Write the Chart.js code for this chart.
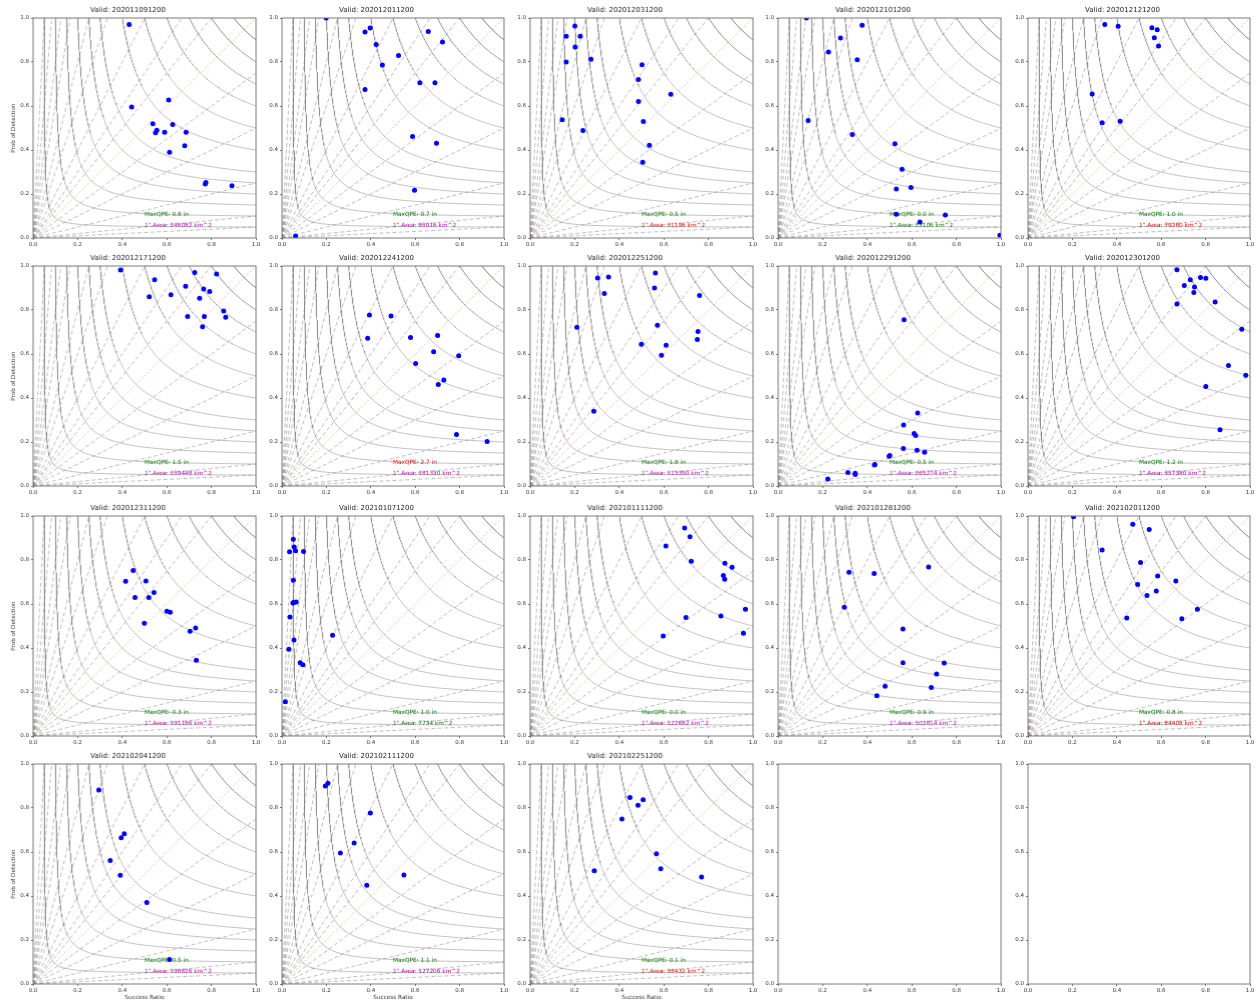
<!DOCTYPE html>
<html>
<head>
<meta charset="utf-8">
<script src="https://cdn.jsdelivr.net/npm/chart.js@4.4.0/dist/chart.umd.min.js"></script>
<style>
  body { margin: 0; background: #fff; width: 1257px; height: 1001px; overflow: hidden; position: relative; }
  canvas { position: absolute; }
</style>
</head>
<body>
<script>
// ---- data ----
const validTimes = ['202011091200', '202012011200', '202012031200', '202012101200', '202012121200',
  '202012171200', '202012241200', '202012251200', '202012291200', '202012301200',
  '202012311200', '202101071200', '202101111200', '202101281200', '202102011200',
  '202102041200', '202102111200', '202102251200'];
const maxQpe = ['0.8', '0.7', '0.5', '0.0', '1.0', '1.5', '2.7', '1.8', '0.5', '1.2',
  '0.3', '1.0', '0.0', '0.9', '0.8', '0.5', '1.1', '0.1'];
const area1in = [246082, 95016, 31196, 23106, 79280, 159448, 181330, 113390, 265274, 357380,
  191186, 7734, 122682, 102814, 84408, 198826, 127206, 38432];
const qpeColors = ['g', 'g', 'g', 'g', 'g', 'g', 'r', 'g', 'g', 'g', 'g', 'g', 'g', 'g', 'g', 'g', 'g', 'g'];
const areaColors = ['m', 'm', 'r', 'g', 'r', 'm', 'm', 'm', 'm', 'm', 'm', 'g', 'm', 'm', 'r', 'm', 'm', 'r'];

const successRatio = [
  [0.431, 0.442, 0.608, 0.537, 0.626, 0.555, 0.549, 0.590, 0.686, 0.680, 0.612, 0.775, 0.772, 0.892],
  [0.199, 0.374, 0.397, 0.424, 0.452, 0.525, 0.374, 0.588, 0.597, 0.061, 0.659, 0.723, 0.621, 0.689, 0.696],
  [0.162, 0.201, 0.225, 0.202, 0.162, 0.273, 0.502, 0.486, 0.631, 0.486, 0.508, 0.144, 0.237, 0.535, 0.505],
  [0.127, 0.226, 0.280, 0.135, 0.377, 0.355, 0.333, 0.524, 0.556, 0.596, 0.530, 0.530, 0.750, 0.636, 0.995],
  [0.346, 0.406, 0.558, 0.582, 0.569, 0.588, 0.289, 0.334, 0.415],
  [0.392, 0.545, 0.725, 0.823, 0.521, 0.618, 0.684, 0.765, 0.792, 0.747, 0.855, 0.864, 0.693, 0.768, 0.760],
  [0.394, 0.491, 0.386, 0.579, 0.602, 0.701, 0.683, 0.796, 0.729, 0.704, 0.786, 0.924],
  [0.303, 0.352, 0.333, 0.562, 0.558, 0.760, 0.210, 0.571, 0.753, 0.750, 0.499, 0.610, 0.589, 0.286],
  [0.223, 0.565, 0.626, 0.563, 0.610, 0.617, 0.562, 0.623, 0.657, 0.501, 0.498, 0.434, 0.432, 0.313, 0.346, 0.346],
  [0.671, 0.777, 0.801, 0.731, 0.704, 0.750, 0.747, 0.671, 0.843, 0.963, 0.903, 0.981, 0.801, 0.865],
  [0.449, 0.415, 0.506, 0.542, 0.457, 0.519, 0.600, 0.615, 0.499, 0.704, 0.729, 0.732],
  [0.051, 0.034, 0.055, 0.061, 0.097, 0.051, 0.054, 0.064, 0.049, 0.036, 0.031, 0.054, 0.082, 0.094, 0.228, 0.015],
  [0.693, 0.717, 0.609, 0.723, 0.874, 0.906, 0.867, 0.873, 0.966, 0.856, 0.699, 0.957, 0.597],
  [0.318, 0.431, 0.675, 0.297, 0.560, 0.560, 0.745, 0.711, 0.480, 0.687, 0.443],
  [0.205, 0.472, 0.546, 0.334, 0.507, 0.584, 0.666, 0.494, 0.578, 0.536, 0.763, 0.445, 0.693],
  [0.295, 0.409, 0.395, 0.346, 0.391, 0.510, 0.612],
  [0.195, 0.207, 0.398, 0.325, 0.263, 0.382, 0.549],
  [0.448, 0.507, 0.484, 0.412, 0.567, 0.586, 0.288, 0.769]
];
const probDetection = [
  [0.970, 0.596, 0.627, 0.519, 0.516, 0.490, 0.478, 0.481, 0.481, 0.419, 0.390, 0.252, 0.246, 0.237],
  [1.000, 0.936, 0.954, 0.879, 0.786, 0.830, 0.675, 0.461, 0.217, 0.009, 0.939, 0.891, 0.706, 0.706, 0.431],
  [0.917, 0.964, 0.917, 0.868, 0.800, 0.812, 0.788, 0.721, 0.653, 0.621, 0.530, 0.537, 0.489, 0.422, 0.344],
  [1.000, 0.845, 0.909, 0.534, 0.967, 0.810, 0.470, 0.428, 0.313, 0.229, 0.223, 0.108, 0.105, 0.073, 0.012],
  [0.971, 0.962, 0.956, 0.947, 0.910, 0.873, 0.654, 0.524, 0.531],
  [0.982, 0.938, 0.970, 0.964, 0.860, 0.869, 0.908, 0.896, 0.884, 0.853, 0.796, 0.767, 0.770, 0.770, 0.724],
  [0.777, 0.773, 0.672, 0.675, 0.557, 0.684, 0.610, 0.592, 0.482, 0.461, 0.234, 0.202],
  [0.946, 0.950, 0.875, 0.968, 0.900, 0.866, 0.722, 0.731, 0.702, 0.666, 0.644, 0.640, 0.594, 0.340],
  [0.032, 0.756, 0.332, 0.277, 0.239, 0.230, 0.171, 0.162, 0.153, 0.139, 0.135, 0.098, 0.095, 0.061, 0.058, 0.052],
  [0.983, 0.948, 0.944, 0.938, 0.911, 0.905, 0.880, 0.827, 0.836, 0.712, 0.548, 0.503, 0.452, 0.256],
  [0.752, 0.703, 0.705, 0.652, 0.629, 0.629, 0.567, 0.562, 0.512, 0.476, 0.491, 0.344],
  [0.894, 0.838, 0.859, 0.842, 0.839, 0.708, 0.608, 0.609, 0.605, 0.541, 0.394, 0.436, 0.333, 0.324, 0.458, 0.156],
  [0.945, 0.906, 0.864, 0.794, 0.785, 0.767, 0.729, 0.712, 0.576, 0.545, 0.539, 0.467, 0.455],
  [0.744, 0.739, 0.768, 0.585, 0.486, 0.333, 0.332, 0.282, 0.226, 0.221, 0.183],
  [0.997, 0.962, 0.939, 0.845, 0.789, 0.727, 0.705, 0.689, 0.659, 0.639, 0.576, 0.536, 0.533],
  [0.882, 0.683, 0.665, 0.561, 0.494, 0.370, 0.111],
  [0.900, 0.912, 0.777, 0.641, 0.595, 0.449, 0.496],
  [0.848, 0.838, 0.812, 0.750, 0.592, 0.524, 0.515, 0.486]
];

// background reference lines of the performance diagram
const csiLevels = [0.05, 0.1, 0.15, 0.2, 0.25, 0.3, 0.4, 0.5, 0.6, 0.7, 0.8, 0.9];
const biasLevels = [0.05, 0.1, 0.25, 0.5, 0.75, 1, 1.25, 1.5, 2, 3, 4, 6, 8, 12, 20];
const tickValues = [0, 0.2, 0.4, 0.6, 0.8, 1.0];
const tickLabels = ['0.0', '0.2', '0.4', '0.6', '0.8', '1.0'];

// ---- layout ----
const colLeft = [33.3, 281.7, 530.2, 778.3, 1027.7];
const rowTop = [18.3, 266, 515.7, 764.3];
const plotW = 222.5, plotH = 220;
const padL = 33, padT = 17, padR = 8, padB = 18;
const FONT = 'DejaVu Sans';
const textColor = { g: '#008000', m: '#bf00bf', r: '#ff0000' };

function csiCurve(c) {
  const a = 1 / c + 1;
  const s = 2 * c / (1 + c);
  const pts = [];
  const n = 60;
  for (let i = 0; i <= n; i++) {
    const pod = 1 - (1 - s) * i / n;
    pts.push({ x: 1 / (a - 1 / pod), y: pod });
  }
  for (let i = 1; i <= n; i++) {
    const sr = s + (1 - s) * i / n;
    pts.push({ x: sr, y: 1 / (a - 1 / sr) });
  }
  return pts;
}

function biasLine(b) {
  return [{ x: 0, y: 0 }, { x: Math.min(1, 1 / b), y: Math.min(1, b) }];
}

const framePlugin = {
  id: 'frame',
  beforeDatasetsDraw(chart) {
    const idx = chart.options.plugins.frame.index;
    if (idx >= validTimes.length) return;
    const { ctx, scales: { x, y } } = chart;
    ctx.save();
    ctx.font = '5.8px "' + FONT + '"';
    ctx.textAlign = 'left';
    ctx.textBaseline = 'alphabetic';
    ctx.fillStyle = textColor[qpeColors[idx]];
    ctx.fillText('MaxQPE: ' + maxQpe[idx] + ' in', x.getPixelForValue(0.5), y.getPixelForValue(0.1));
    ctx.fillStyle = textColor[areaColors[idx]];
    ctx.fillText('1" Area: ' + area1in[idx] + ' km^2', x.getPixelForValue(0.5), y.getPixelForValue(0.05));
    ctx.restore();
  },
  afterDraw(chart) {
    const { ctx, chartArea: a } = chart;
    ctx.save();
    ctx.strokeStyle = '#7a7a7a';
    ctx.lineWidth = 1;
    ctx.strokeRect(a.left, a.top, a.right - a.left, a.bottom - a.top);
    ctx.restore();
  }
};

for (let i = 0; i < 20; i++) {
  const r = Math.floor(i / 5), c = i % 5;
  const canvas = document.createElement('canvas');
  const w = padL + plotW + padR, h = padT + plotH + padB;
  canvas.width = w;
  canvas.height = h;
  canvas.style.width = w + 'px';
  canvas.style.height = h + 'px';
  canvas.style.left = (colLeft[c] - padL) + 'px';
  canvas.style.top = (rowTop[r] - padT) + 'px';
  document.body.appendChild(canvas);

  const datasets = [];
  if (i < validTimes.length) {
    datasets.push({
      data: successRatio[i].map((v, k) => ({ x: v, y: probDetection[i][k] })),
      backgroundColor: '#0000ff',
      borderWidth: 0,
      pointRadius: 2.5,
      showLine: false
    });
    biasLevels.forEach(b => {
      datasets.push({
        data: biasLine(b),
        showLine: true,
        pointRadius: 0,
        borderWidth: 0.9,
        borderColor: b === 1 ? 'rgba(255,80,80,0.45)' : 'rgba(110,110,110,0.5)',
        borderDash: b === 1 ? [2, 2] : [4, 2.5]
      });
    });
    csiLevels.forEach(lv => {
      datasets.push({
        data: csiCurve(lv),
        showLine: true,
        pointRadius: 0,
        borderWidth: 0.9,
        borderColor: 'rgba(120,120,120,0.5)',
        tension: 0
      });
    });
  }

  const tickFont = { family: FONT, size: 5.5 };
  new Chart(canvas, {
    type: 'scatter',
    data: { datasets },
    options: {
      responsive: false,
      animation: false,
      events: [],
      layout: { padding: { left: 0, top: 0, right: padR, bottom: 0 } },
      plugins: {
        legend: { display: false },
        tooltip: { enabled: false },
        title: {
          display: true,
          text: i < validTimes.length ? 'Valid: ' + validTimes[i] : '',
          color: '#222',
          font: { family: FONT, size: 7, weight: 'normal', lineHeight: 1.2 },
          padding: { top: 4.6, bottom: 4 }
        },
        frame: { index: i }
      },
      scales: {
        x: {
          type: 'linear', min: 0, max: 1,
          afterBuildTicks: s => { s.ticks = tickValues.map(v => ({ value: v })); },
          afterFit: s => { s.height = padB; },
          ticks: {
            callback: (v, k) => tickLabels[k], font: tickFont, color: '#333',
            padding: 1, maxRotation: 0, autoSkip: false
          },
          grid: { drawOnChartArea: false, drawTicks: true, tickLength: 2, color: '#777' },
          border: { display: false },
          title: {
            display: r === 3 && c < 3, text: 'Success Ratio', color: '#333',
            font: { family: FONT, size: 5.7 }, padding: { top: 0, bottom: 1.5 }
          }
        },
        y: {
          type: 'linear', min: 0, max: 1,
          afterBuildTicks: s => { s.ticks = tickValues.map(v => ({ value: v })); },
          afterFit: s => { s.width = padL; },
          ticks: { callback: (v, k) => tickLabels[k], font: tickFont, color: '#333', padding: 2 },
          grid: { drawOnChartArea: false, drawTicks: true, tickLength: 2, color: '#777' },
          border: { display: false },
          title: {
            display: c === 0, text: 'Prob of Detection', color: '#333',
            font: { family: FONT, size: 5.7 }, padding: { top: 10, bottom: 0 }
          }
        }
      }
    },
    plugins: [framePlugin]
  });
}
</script>
</body>
</html>
